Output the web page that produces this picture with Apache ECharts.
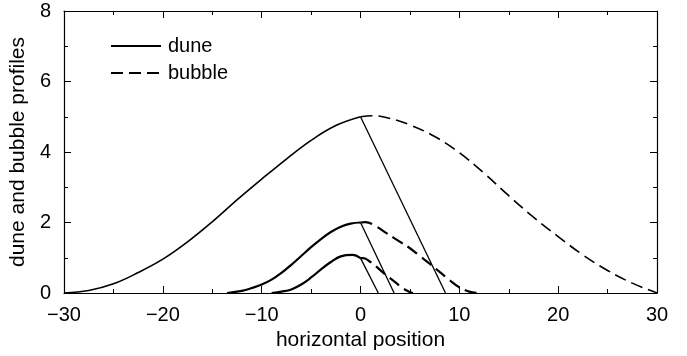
<!DOCTYPE html>
<html>
<head>
<meta charset="utf-8">
<script src="https://cdn.jsdelivr.net/npm/echarts@6/dist/echarts.min.js"></script>
<style>
html,body{margin:0;padding:0;background:#fff;}
#chart{width:687px;height:356px;}
</style>
</head>
<body>
<div id="chart"></div>
<script>
// ---- data ----
var xTicks = [-30, -20, -10, 0, 10, 20, 30];
var yTicks = [0, 2, 4, 6, 8];

// large dune (solid)
var bigDuneX = [-30, -27.5, -25, -22.5, -20, -17.5, -15, -12.5, -10, -7.5, -5, -2.5, 0];
var bigDuneY = [0, 0.07, 0.26, 0.58, 0.96, 1.45, 2.02, 2.64, 3.23, 3.8, 4.33, 4.75, 5.0];
var bigSlipX = [0, 8.6];
var bigSlipY = [5.0, 0];
// large bubble (dashed)
var bigBubbleX = [0, 1.2, 3, 5, 7.5, 10, 12.5, 15, 17.5, 20, 22.5, 25, 27.5, 30];
var bigBubbleY = [5.0, 5.03, 4.95, 4.77, 4.44, 3.98, 3.4, 2.76, 2.15, 1.6, 1.08, 0.64, 0.28, 0];

// medium dune
var midDuneX = [-13.5, -12, -11, -10, -9, -8, -7, -6, -5, -4, -3, -2, -1, 0];
var midDuneY = [0, 0.06, 0.14, 0.24, 0.38, 0.57, 0.8, 1.05, 1.3, 1.53, 1.73, 1.88, 1.97, 2.0];
var midSlipX = [0, 3.4];
var midSlipY = [2.0, 0];
var midBubbleX = [0, 0.5, 1.35, 2.5, 4, 5, 6, 7, 8, 9, 10, 11, 11.8];
var midBubbleY = [2.0, 2.01, 1.93, 1.72, 1.45, 1.27, 1.05, 0.83, 0.6, 0.37, 0.16, 0.04, 0];

// small dune
var smallDuneX = [-9, -8, -7, -6, -5, -4, -3, -2, -0.8, 0];
var smallDuneY = [0, 0.04, 0.1, 0.24, 0.44, 0.67, 0.88, 1.04, 1.08, 0.99];
var smallSlipX = [0, 1.8];
var smallSlipY = [0.99, 0];
var smallBubbleX = [0, 0.3, 1.0, 1.5, 2.5, 3.5, 4.3, 5.0, 5.3];
var smallBubbleY = [0.99, 0.99, 0.88, 0.77, 0.53, 0.31, 0.13, 0.03, 0];

var xLabel = 'horizontal position';
var yLabel = 'dune and bubble profiles';

// ---- build ----
function pairs(xs, ys) { return xs.map(function (x, i) { return [x, ys[i]]; }); }
var FONT = 'Liberation Sans';
var DASH = [12, 6];

function curve(name, xs, ys, width, dashed, smooth) {
  return {
    name: name, type: 'line', data: pairs(xs, ys),
    showSymbol: false, symbol: 'none',
    smooth: smooth ? 0.4 : false,
    lineStyle: { color: '#000', width: width, type: dashed ? DASH : 'solid' },
    itemStyle: { color: '#000' },
    animation: false, silent: true, z: 3
  };
}

var grid = { left: 63, right: 30, top: 11, bottom: 63 };
var axisText = { fontFamily: FONT, fontSize: 20, color: '#000' };
var nameText = { fontFamily: FONT, fontSize: 21, color: '#000' };

var option = {
  backgroundColor: '#fff',
  animation: false,
  grid: grid,
  legend: {
    orient: 'vertical', left: 105, top: 31,
    itemWidth: 50, itemHeight: 14, itemGap: 7,
    itemStyle: { opacity: 0, borderWidth: 0 },
    textStyle: { fontFamily: FONT, fontSize: 20, color: '#000', padding: [0, 0, 0, 2] },
    data: ['dune', 'bubble'],
    selectedMode: false
  },
  xAxis: [
    {
      type: 'value', min: -30, max: 30, interval: 10, position: 'bottom',
      name: xLabel, nameLocation: 'middle', nameGap: 37, nameTextStyle: nameText,
      axisLine: { onZero: false, lineStyle: { color: '#000', width: 1.2 } },
      axisTick: { inside: true, length: 7, lineStyle: { color: '#000' } },
      minorTick: { show: true, splitNumber: 2, length: 4, lineStyle: { color: '#000' } },
      axisLabel: Object.assign({ margin: 12, formatter: function (v) { return v < 0 ? '\u2212' + Math.abs(v) : String(v); } }, axisText),
      splitLine: { show: false }
    },
    {
      type: 'value', min: -30, max: 30, interval: 10, position: 'top',
      axisLine: { onZero: false, lineStyle: { color: '#000', width: 1.2 } },
      axisTick: { inside: true, length: 7, lineStyle: { color: '#000' } },
      minorTick: { show: true, splitNumber: 2, length: 4, lineStyle: { color: '#000' } },
      axisLabel: { show: false }, splitLine: { show: false }
    }
  ],
  yAxis: [
    {
      type: 'value', min: 0, max: 8, interval: 2, position: 'left',
      name: yLabel, nameLocation: 'middle', nameGap: 34, nameRotate: 90, nameTextStyle: nameText,
      axisLine: { onZero: false, lineStyle: { color: '#000', width: 1.2 } },
      axisTick: { inside: true, length: 7, lineStyle: { color: '#000' } },
      minorTick: { show: true, splitNumber: 2, length: 4, lineStyle: { color: '#000' } },
      axisLabel: Object.assign({ margin: 13 }, axisText),
      splitLine: { show: false }
    },
    {
      type: 'value', min: 0, max: 8, interval: 2, position: 'right',
      axisLine: { onZero: false, lineStyle: { color: '#000', width: 1.2 } },
      axisTick: { inside: true, length: 7, lineStyle: { color: '#000' } },
      minorTick: { show: true, splitNumber: 2, length: 4, lineStyle: { color: '#000' } },
      axisLabel: { show: false }, splitLine: { show: false }
    }
  ],
  series: [
    curve('dune', bigDuneX, bigDuneY, 1.6, false, true),
    curve('dune', bigSlipX, bigSlipY, 1.3, false, false),
    curve('bubble', bigBubbleX, bigBubbleY, 1.6, true, true),
    curve('dune', midDuneX, midDuneY, 2.2, false, true),
    curve('dune', midSlipX, midSlipY, 1.3, false, false),
    curve('bubble', midBubbleX, midBubbleY, 2.2, true, true),
    curve('dune', smallDuneX, smallDuneY, 2.2, false, true),
    curve('dune', smallSlipX, smallSlipY, 1.3, false, false),
    curve('bubble', smallBubbleX, smallBubbleY, 2.2, true, true)
  ]
};

var chart = echarts.init(document.getElementById('chart'), null, { renderer: 'canvas' });
chart.setOption(option);
</script>
</body>
</html>
